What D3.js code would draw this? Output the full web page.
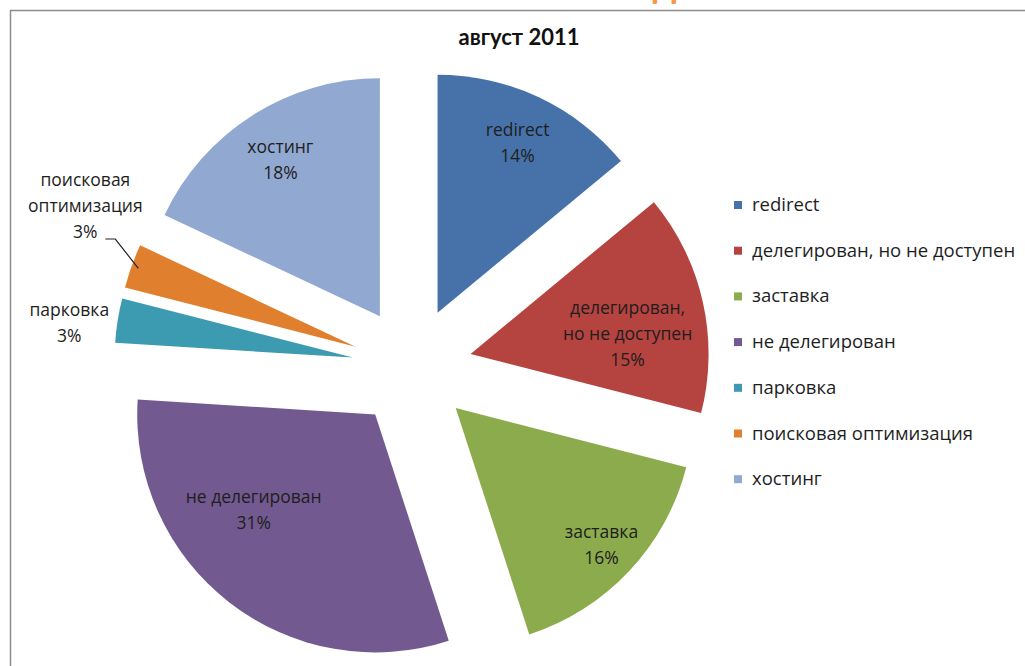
<!DOCTYPE html>
<html><head><meta charset="utf-8">
<script src="https://cdn.jsdelivr.net/npm/d3@7"></script>
<style>body{margin:0;background:#fff;overflow:hidden}svg{display:block}</style>
</head><body>
<svg id="chart" width="1025" height="666"></svg>
<script>
// ---- data ----
const categories = ["redirect", "делегирован, но не доступен", "заставка", "не делегирован", "парковка", "поисковая оптимизация", "хостинг"];
const values = [14, 15, 16, 31, 3, 3, 18];
const labelLines = [["redirect"], ["делегирован,", "но не доступен"], ["заставка"], ["не делегирован"], ["парковка"], ["поисковая", "оптимизация"], ["хостинг"]];
const colors = ["#4672a9", "#b5433f", "#8cab4c", "#72598f", "#3c9ab1", "#e0802f", "#91a8d0"];
const chartTitle = "август 2011";
const slideTitle = "Статистика по доменам";

// ---- layout ----
const svg = d3.select("#chart");
const cx = 412, cy = 367, R = 238, explode = 60;
// label placement: radius fraction from slice apex, angle shift (deg)
const labelPlace = [[0.79, 0], [0.665, 5.5], [0.84, 0], [0.65, 14], [1.2, -2], [1.28, 7.7], [0.78, 0]];

// cut-off slide title (only its lowest pixels are visible in the reference)
svg.append("text").attr("x", 600).attr("y", -2).attr("text-anchor", "middle")
  .attr("font-family", "Lato, sans-serif").attr("font-weight", "bold").attr("font-size", 38)
  .attr("fill", "#f79646").text(slideTitle);

// chart frame
svg.append("rect").attr("x", 10.5).attr("y", 10.5).attr("width", 1030).attr("height", 670)
  .attr("fill", "#fff").attr("stroke", "#8c8c8c").attr("stroke-width", 1.5);

svg.append("text").attr("x", 519).attr("y", 45).attr("text-anchor", "middle")
  .attr("font-family", "Lato, sans-serif").attr("font-weight", "bold").attr("font-size", 22)
  .attr("fill", "#111").text(chartTitle);

const pie = d3.pie().sort(null).value(d => d)(values);
const arc = d3.arc().innerRadius(0).outerRadius(R);
const color = d3.scaleOrdinal().domain(categories).range(colors);

const g = svg.append("g").attr("transform", `translate(${cx},${cy})`);
const apex = p => { const m = (p.startAngle + p.endAngle) / 2; return [explode * Math.sin(m), -explode * Math.cos(m)]; };

g.selectAll("path.slice").data(pie).join("path").attr("class", "slice")
  .attr("transform", p => `translate(${apex(p)})`)
  .attr("d", arc).attr("fill", (p, i) => color(categories[i]));

// data labels
pie.forEach((p, i) => {
  const [ax, ay] = apex(p);
  const m = (p.startAngle + p.endAngle) / 2 + labelPlace[i][1] * Math.PI / 180;
  const rr = labelPlace[i][0] * R;
  const lx = ax + rr * Math.sin(m), ly = ay - rr * Math.cos(m);
  const lines = labelLines[i].concat([values[i] + "%"]);
  const lh = 26;
  const t = g.append("text").attr("text-anchor", "middle")
    .attr("font-family", "'Open Sans', sans-serif").attr("font-size", 17.5).attr("fill", "#1e1e1e");
  lines.forEach((s, k) => {
    t.append("tspan").attr("x", lx).attr("y", ly + (k - (lines.length - 1) / 2) * lh + 6).text(s);
  });
  if (i === 5) {
    const ex = ax + 0.97 * R * Math.sin((p.startAngle + p.endAngle) / 2);
    const ey = ay - 0.97 * R * Math.cos((p.startAngle + p.endAngle) / 2);
    const sy = ly + lh + 7;
    g.append("polyline").attr("points", `${lx + 20},${sy} ${lx + 30},${sy} ${ex},${ey}`)
      .attr("fill", "none").attr("stroke", "#222").attr("stroke-width", 1.2);
  }
});

// legend
const leg = svg.append("g").attr("transform", "translate(734,205)");
categories.forEach((c, i) => {
  const row = leg.append("g").attr("transform", `translate(0,${i * 45.7})`);
  row.append("rect").attr("x", 0).attr("y", -4).attr("width", 8).attr("height", 8).attr("fill", color(c));
  row.append("text").attr("x", 18).attr("y", 6).attr("font-family", "'Open Sans', sans-serif")
    .attr("font-size", 18.5).attr("fill", "#1e1e1e").text(c);
});
</script>
</body></html>
